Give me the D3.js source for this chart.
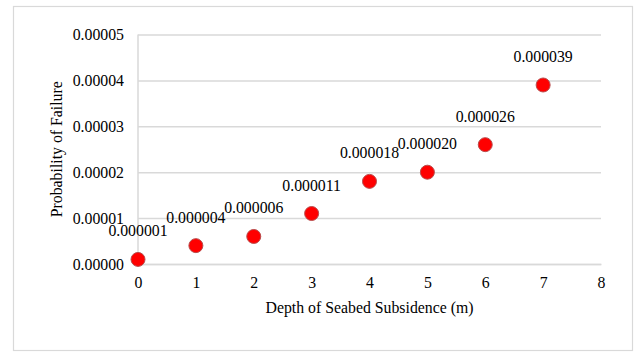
<!DOCTYPE html>
<html>
<head>
<meta charset="utf-8">
<script src="https://cdn.jsdelivr.net/npm/d3@7"></script>
<style>
  html, body { margin: 0; padding: 0; background: #fff; }
  svg { display: block; }
</style>
</head>
<body>
<svg id="chart" width="638" height="354"></svg>
<script>
// Depth of seabed subsidence (m) and the probability of failure at each depth
const depths = [0, 1, 2, 3, 4, 5, 6, 7];
const probabilities = [0.000001, 0.000004, 0.000006, 0.000011, 0.000018, 0.000020, 0.000026, 0.000039];
const valueLabels = ["0.000001", "0.000004", "0.000006", "0.000011", "0.000018", "0.000020", "0.000026", "0.000039"];
const xTicks = [0, 1, 2, 3, 4, 5, 6, 7, 8];
const yTicks = [0, 0.00001, 0.00002, 0.00003, 0.00004, 0.00005];
const xTitle = "Depth of Seabed Subsidence (m)";
const yTitle = "Probability of Failure";

const svg = d3.select("#chart");
const plot = { left: 138, right: 601, top: 34.5, bottom: 264 };
const gridColor = "#d9d9d9";
const fontSize = 15.8;
const serif = "'Liberation Serif', 'Times New Roman', serif";

// Outer chart frame
svg.append("rect")
  .attr("x", 13.5).attr("y", 6.5)
  .attr("width", 619).attr("height", 344)
  .attr("fill", "#fff")
  .attr("stroke", gridColor).attr("stroke-width", 1.2);

const x = d3.scaleLinear().domain([0, 8]).range([plot.left, plot.right]);
const y = d3.scaleLinear().domain([0, 0.00005]).range([plot.bottom, plot.top]);

// Horizontal gridlines with y tick labels
const yAxis = d3.axisLeft(y)
  .tickValues(yTicks)
  .tickFormat(d3.format(".5f"))
  .tickSize(-(plot.right - plot.left))
  .tickPadding(14);
const gy = svg.append("g").attr("transform", `translate(${plot.left},0)`).call(yAxis)
  .attr("font-family", serif).attr("font-size", fontSize);
gy.select(".domain").remove();
gy.selectAll(".tick line").attr("stroke", gridColor).attr("stroke-width", 1.5);
gy.selectAll(".tick text").attr("fill", "#000");

// Vertical axis line at x = 0
svg.append("line")
  .attr("x1", x(0)).attr("x2", x(0))
  .attr("y1", plot.top).attr("y2", plot.bottom)
  .attr("stroke", gridColor).attr("stroke-width", 1.5);

// Bottom axis with tick labels (no tick marks)
const xAxis = d3.axisBottom(x)
  .tickValues(xTicks)
  .tickFormat(d3.format("d"))
  .tickSize(0)
  .tickPadding(13);
const gx = svg.append("g").attr("transform", `translate(0,${plot.bottom})`).call(xAxis)
  .attr("font-family", serif).attr("font-size", fontSize);
gx.select(".domain").attr("stroke", gridColor).attr("stroke-width", 1.5);
gx.selectAll(".tick text").attr("fill", "#000");

// Axis titles
svg.append("text")
  .attr("x", (plot.left + plot.right) / 2)
  .attr("y", 313)
  .attr("text-anchor", "middle")
  .attr("font-family", serif)
  .attr("font-size", fontSize)
  .attr("fill", "#000")
  .text(xTitle);

svg.append("text")
  .attr("transform", `translate(62,${(plot.top + plot.bottom) / 2}) rotate(-90)`)
  .attr("text-anchor", "middle")
  .attr("font-family", serif)
  .attr("font-size", fontSize)
  .attr("fill", "#000")
  .text(yTitle);

// Scatter markers
const pts = depths.map((d, i) => ({ x: d, y: probabilities[i], label: valueLabels[i] }));
svg.append("g").selectAll("circle")
  .data(pts)
  .join("circle")
  .attr("cx", d => x(d.x))
  .attr("cy", d => y(d.y))
  .attr("r", 7)
  .attr("fill", "#ff0000")
  .attr("stroke", "#b84c4c")
  .attr("stroke-width", 1);

// Value labels above each marker
svg.append("g")
  .attr("font-family", serif)
  .attr("font-size", fontSize)
  .selectAll("text")
  .data(pts)
  .join("text")
  .attr("x", d => x(d.x))
  .attr("y", d => y(d.y) - 23)
  .attr("text-anchor", "middle")
  .attr("fill", "#000")
  .text(d => d.label);
</script>
</body>
</html>
